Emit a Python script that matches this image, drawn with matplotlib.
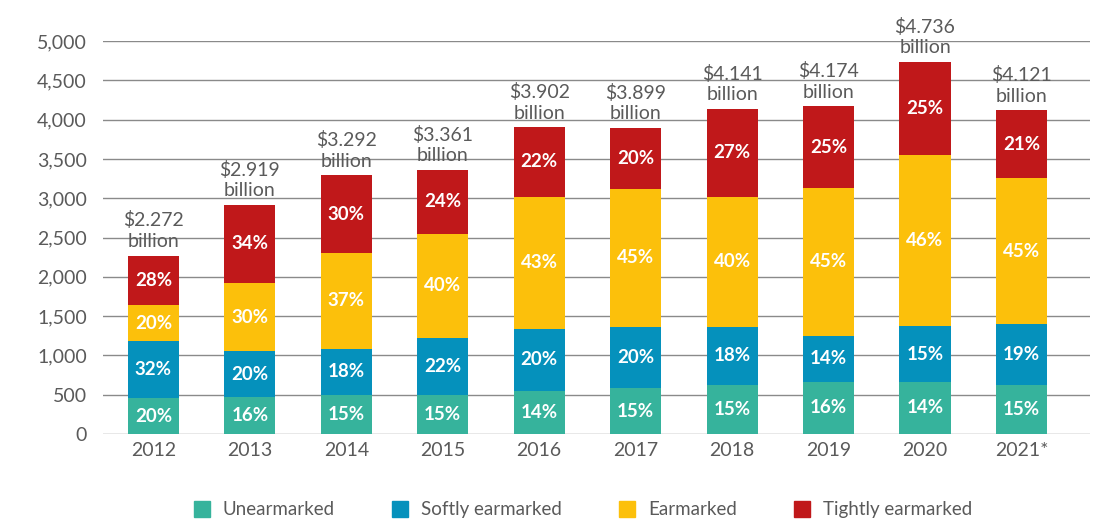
import matplotlib.pyplot as plt
from matplotlib.lines import Line2D
import numpy as np

plt.rcParams['font.family'] = ['Lato', 'DejaVu Sans']

years = ["2012", "2013", "2014", "2015", "2016", "2017", "2018", "2019", "2020", "2021*"]
totals = ["$2.272", "$2.919", "$3.292", "$3.361", "$3.902", "$3.899", "$4.141", "$4.174", "$4.736", "$4.121"]

series = ["Unearmarked", "Softly earmarked", "Earmarked", "Tightly earmarked"]
colors = ["#36b39c", "#0591bc", "#fcc00b", "#c0181a"]

# values in USD millions
unearmarked = [455, 467, 494, 500, 548, 585, 621, 668, 663, 618]
softly = [727, 584, 593, 724, 791, 780, 745, 584, 710, 783]
earmarked = [454, 876, 1218, 1327, 1684, 1755, 1656, 1878, 2179, 1854]
tightly = [636, 992, 987, 810, 879, 779, 1119, 1044, 1184, 866]

pct_un = [20, 16, 15, 15, 14, 15, 15, 16, 14, 15]
pct_soft = [32, 20, 18, 22, 20, 20, 18, 14, 15, 19]
pct_ear = [20, 30, 37, 40, 43, 45, 40, 45, 46, 45]
pct_tight = [28, 34, 30, 24, 22, 20, 27, 25, 25, 21]

grey = "#5a5a5a"

fig = plt.figure(figsize=(10.94, 5.22), dpi=100)
ax = fig.add_axes([0.094, 0.1686, 0.9023, 0.7525])

x = np.arange(len(years))
bottom = np.zeros(len(years))
for vals, pcts, col, name in zip([unearmarked, softly, earmarked, tightly],
                                 [pct_un, pct_soft, pct_ear, pct_tight], colors, series):
    ax.bar(x, vals, 0.53, bottom=bottom, color=col, label=name, zorder=3)
    for i in range(len(years)):
        ax.text(x[i], bottom[i] + vals[i] / 2, f"{pcts[i]}%", ha="center", va="center",
                color="white", fontsize=13.5, fontweight="bold", zorder=4)
    bottom += np.array(vals)

for i in range(len(years)):
    ax.annotate(f"{totals[i]}\nbillion", (x[i], bottom[i]), xytext=(0, 4),
                textcoords="offset points", ha="center", va="bottom",
                fontsize=14, color=grey, linespacing=1.25, annotation_clip=False)

ax.set_xlim(-0.524, 9.71)
ax.set_ylim(0, 5000)
ax.set_yticks(range(0, 5001, 500))
ax.set_yticklabels([f"{v:,}" for v in range(0, 5001, 500)])
ax.set_xticks(x)
ax.set_xticklabels(years)
ax.tick_params(axis="y", length=0, pad=11.5, labelsize=14, labelcolor=grey)
ax.tick_params(axis="x", length=0, pad=6, labelsize=14, labelcolor=grey)
ax.grid(axis="y", color="#8a8a8a", lw=1, zorder=0)
for s in ax.spines.values():
    s.set_visible(False)

handles = [Line2D([], [], marker="s", ls="", markersize=11, color=c) for c in colors]
fig.legend(handles, series, loc="center", bbox_to_anchor=(0.528, 0.023), ncol=4,
           frameon=False, fontsize=13.5, labelcolor=grey, columnspacing=2.5,
           handletextpad=0.1)

fig.savefig("out.png", dpi=100)
